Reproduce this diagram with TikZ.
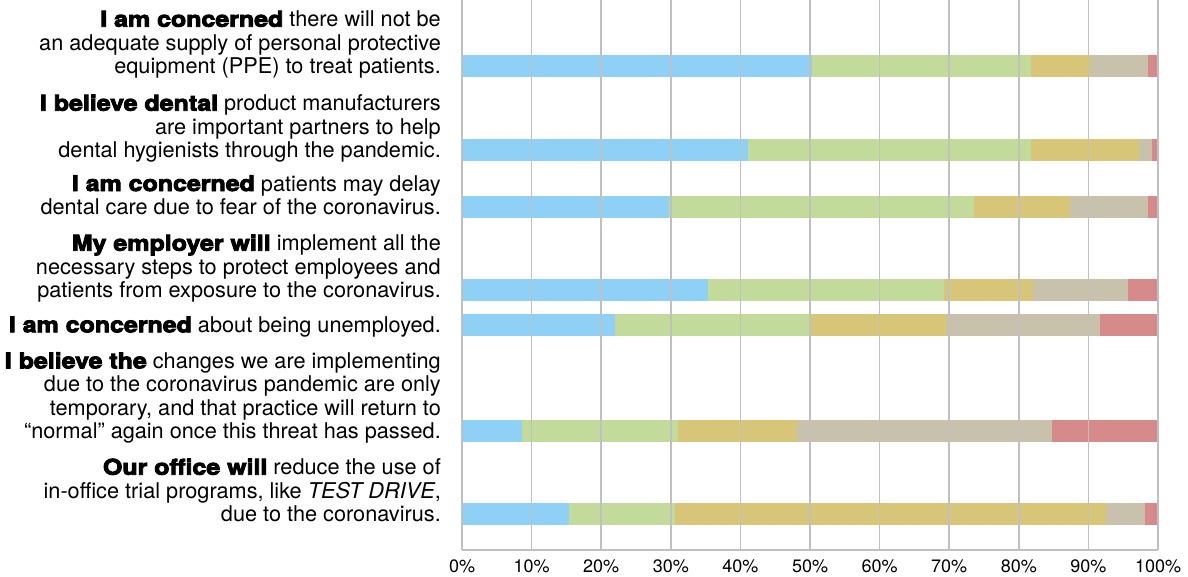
\documentclass[tikz,border=0pt]{standalone}
\usepackage{fontspec}
\setmainfont{TeX Gyre Heros}
\newfontface\heavy{texgyreheros-bold.otf}[FakeBold=4,FakeStretch=1.15]

\definecolor{stragree}{HTML}{8FD1F6}
\definecolor{agree}{HTML}{C2DB9A}
\definecolor{neutral}{HTML}{D7C678}
\definecolor{disagree}{HTML}{C8C2AC}
\definecolor{strdisagree}{HTML}{D78A8A}
\definecolor{gridgray}{HTML}{C0C0C0}

\begin{document}
\begin{tikzpicture}[x=1pt, y=-1pt,
  stmt/.style={anchor=base east, align=right, inner sep=0pt, font=\fontsize{21.7}{23.3}\selectfont},
  pct/.style={anchor=base, inner sep=0pt, font=\fontsize{18}{20}\selectfont}]
\useasboundingbox (0,0) rectangle (1188,576);

% statements, anchored at the baseline of their last line
\node[stmt] (s1) at (441,73.3) {{\heavy I am concerned} there will not be\\an adequate supply of personal protective\\equipment (PPE) to treat patients.};
\node[stmt] (s2) at (441,157.3) {{\heavy I believe dental} product manufacturers\\are important partners to help\\dental hygienists through the pandemic.};
\node[stmt] (s3) at (441,214.3) {{\heavy I am concerned} patients may delay\\dental care due to fear of the coronavirus.};
\node[stmt] (s4) at (441,297.3) {{\heavy My employer will} implement all the\\necessary steps to protect employees and\\patients from exposure to the coronavirus.};
\node[stmt] (s5) at (441,332.3) {{\heavy I am concerned} about being unemployed.};
\node[stmt] (s6) at (441,438.3) {{\heavy I believe the} changes we are implementing\\due to the coronavirus pandemic are only\\temporary, and that practice will return to\\“normal” again once this threat has passed.};
\node[stmt] (s7) at (441,521.3) {{\heavy Our office will} reduce the use of\\in-office trial programs, like \textit{TEST DRIVE},\\due to the coronavirus.};

% bars, x in percent
\begin{scope}[xshift=462pt, x=6.96pt]
\fill[stragree] (0,55) rectangle (50.3,76.7);
\fill[agree] (50.3,55) rectangle (81.8,76.7);
\fill[neutral] (81.8,55) rectangle (90.3,76.7);
\fill[disagree] (90.3,55) rectangle (98.5,76.7);
\fill[strdisagree] (98.5,55) rectangle (100,76.7);

\fill[stragree] (0,139) rectangle (41.1,160.7);
\fill[agree] (41.1,139) rectangle (81.8,160.7);
\fill[neutral] (81.8,139) rectangle (97.2,160.7);
\fill[disagree] (97.2,139) rectangle (99.2,160.7);
\fill[strdisagree] (99.2,139) rectangle (100,160.7);

\fill[stragree] (0,196) rectangle (29.7,217.7);
\fill[agree] (29.7,196) rectangle (73.5,217.7);
\fill[neutral] (73.5,196) rectangle (87.3,217.7);
\fill[disagree] (87.3,196) rectangle (98.5,217.7);
\fill[strdisagree] (98.5,196) rectangle (100,217.7);

\fill[stragree] (0,279) rectangle (35.4,300.7);
\fill[agree] (35.4,279) rectangle (69.2,300.7);
\fill[neutral] (69.2,279) rectangle (82.0,300.7);
\fill[disagree] (82.0,279) rectangle (95.7,300.7);
\fill[strdisagree] (95.7,279) rectangle (100,300.7);

\fill[stragree] (0,314) rectangle (22.0,335.7);
\fill[agree] (22.0,314) rectangle (50.0,335.7);
\fill[neutral] (50.0,314) rectangle (69.7,335.7);
\fill[disagree] (69.7,314) rectangle (91.6,335.7);
\fill[strdisagree] (91.6,314) rectangle (100,335.7);

\fill[stragree] (0,420) rectangle (8.6,441.7);
\fill[agree] (8.6,420) rectangle (31.0,441.7);
\fill[neutral] (31.0,420) rectangle (48.1,441.7);
\fill[disagree] (48.1,420) rectangle (84.7,441.7);
\fill[strdisagree] (84.7,420) rectangle (100,441.7);

\fill[stragree] (0,503) rectangle (15.4,524.7);
\fill[agree] (15.4,503) rectangle (30.6,524.7);
\fill[neutral] (30.6,503) rectangle (92.5,524.7);
\fill[disagree] (92.5,503) rectangle (98.1,524.7);
\fill[strdisagree] (98.1,503) rectangle (100,524.7);

% grid and axis
\foreach \p in {0,10,...,100} {
  \draw[gridgray, line width=1.5pt] (\p,0) -- (\p,550);
  \node[pct] (t\p) at (\p,572) {\p\%};
}
\draw[gridgray, line width=1.5pt] (0,550) -- (100,550);
\end{scope}
\end{tikzpicture}
\end{document}
